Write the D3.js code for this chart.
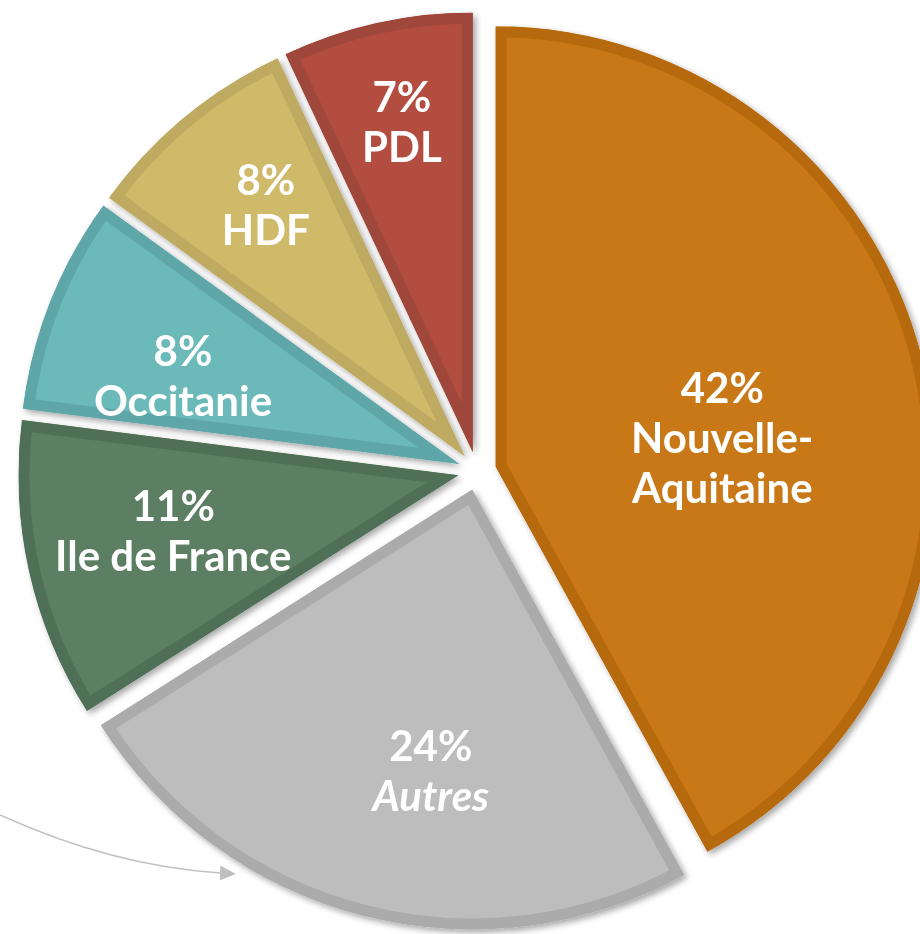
<!DOCTYPE html>
<html>
<head>
<meta charset="utf-8">
<script src="https://cdnjs.cloudflare.com/ajax/libs/d3/7.8.5/d3.min.js"></script>
<style>
  body { margin: 0; background: #fff; }
  svg { display: block; }
  .lbl { font-family: Lato, "Noto Sans", sans-serif; font-weight: 700; fill: #fff; }
</style>
</head>
<body>
<div id="chart"></div>
<script>
// data
var regions = ['Nouvelle-Aquitaine', 'Autres', 'Ile de France', 'Occitanie', 'HDF', 'PDL'];
var shares = [42, 24, 11, 8, 8, 7];
var fills = ['#C87814', '#BDBDBD', '#5B7E62', '#6CB9BA', '#CFBA6B', '#B24E40'];
var borders = ['#B66A0E', '#ABABAB', '#4F7056', '#5FA6A8', '#BFAA62', '#9F463A'];

// label placement (radius as share of R, angle tweak in degrees)
var labelRad = [0.52, 0.645, 0.66, 0.66, 0.73, 0.77];
var labelTweak = [7, -6, 1.7, -3.7, 1.3, 0.5];

var width = 920, height = 934;
var cx = 477, cy = 471, R = 440, explode = 19, lineH = 50;

var svg = d3.select('#chart').append('svg')
  .attr('width', width)
  .attr('height', height);

var defs = svg.append('defs');
var shadow = defs.append('filter').attr('id', 'shadow')
  .attr('x', '-10%').attr('y', '-10%').attr('width', '120%').attr('height', '120%');
shadow.append('feDropShadow')
  .attr('dx', 3).attr('dy', 3).attr('stdDeviation', 3)
  .attr('flood-color', '#000').attr('flood-opacity', 0.35);

defs.append('marker')
  .attr('id', 'head')
  .attr('viewBox', '0 0 10 10')
  .attr('refX', 0).attr('refY', 5)
  .attr('markerUnits', 'userSpaceOnUse')
  .attr('markerWidth', 16).attr('markerHeight', 15)
  .attr('preserveAspectRatio', 'none')
  .attr('orient', 'auto')
  .append('path')
  .attr('d', 'M0,0 L10,5 L0,10 Z')
  .attr('fill', '#BFBFBF');

var rows = regions.map(function(r, i) { return { name: r, value: shares[i], i: i }; });

var pie = d3.pie().sort(null).value(function(d) { return d.value; });
var arcs = pie(rows);

var arc = d3.arc().innerRadius(0).outerRadius(R);

var g = svg.append('g').attr('transform', 'translate(' + cx + ',' + cy + ')');

function offset(d) {
  var m = (d.startAngle + d.endAngle) / 2;
  return [explode * Math.sin(m), -explode * Math.cos(m)];
}

var slice = g.selectAll('g.slice')
  .data(arcs)
  .enter().append('g')
  .attr('class', 'slice')
  .attr('transform', function(d) { var o = offset(d); return 'translate(' + o[0] + ',' + o[1] + ')'; })
  .attr('filter', 'url(#shadow)');

slice.append('clipPath')
  .attr('id', function(d) { return 'clip' + d.data.i; })
  .append('path')
  .attr('d', arc);

slice.append('path')
  .attr('d', arc)
  .attr('fill', function(d) { return fills[d.data.i]; })
  .attr('stroke', function(d) { return borders[d.data.i]; })
  .attr('stroke-width', 22)
  .attr('stroke-linejoin', 'round')
  .attr('clip-path', function(d) { return 'url(#clip' + d.data.i + ')'; });

// labels
var labelArc = d3.arc();
slice.each(function(d) {
  var i = d.data.i;
  var a = (d.startAngle + d.endAngle) / 2 + labelTweak[i] * Math.PI / 180;
  var r = R * labelRad[i];
  var p = labelArc.centroid({ innerRadius: r, outerRadius: r, startAngle: a, endAngle: a });
  var lines = [d.data.value + '%'].concat(d.data.name === 'Nouvelle-Aquitaine' ? ['Nouvelle-', 'Aquitaine'] : [d.data.name]);
  var t = d3.select(this).append('text')
    .attr('class', 'lbl')
    .attr('text-anchor', 'middle')
    .attr('font-size', 42)
    .attr('x', p[0]).attr('y', p[1]);
  lines.forEach(function(l, k) {
    t.append('tspan')
      .attr('x', p[0])
      .attr('y', p[1] + (k - (lines.length - 1) / 2) * lineH)
      .attr('dominant-baseline', 'central')
      .attr('font-style', (d.data.name === 'Autres' && k > 0) ? 'italic' : 'normal')
      .text(l);
  });
});

// annotation arrow pointing at "Autres"
svg.append('path')
  .attr('d', 'M0,815 Q112,866 220,873')
  .attr('fill', 'none')
  .attr('stroke', '#BFBFBF')
  .attr('stroke-width', 1.5)
  .attr('marker-end', 'url(#head)');
</script>
</body>
</html>
